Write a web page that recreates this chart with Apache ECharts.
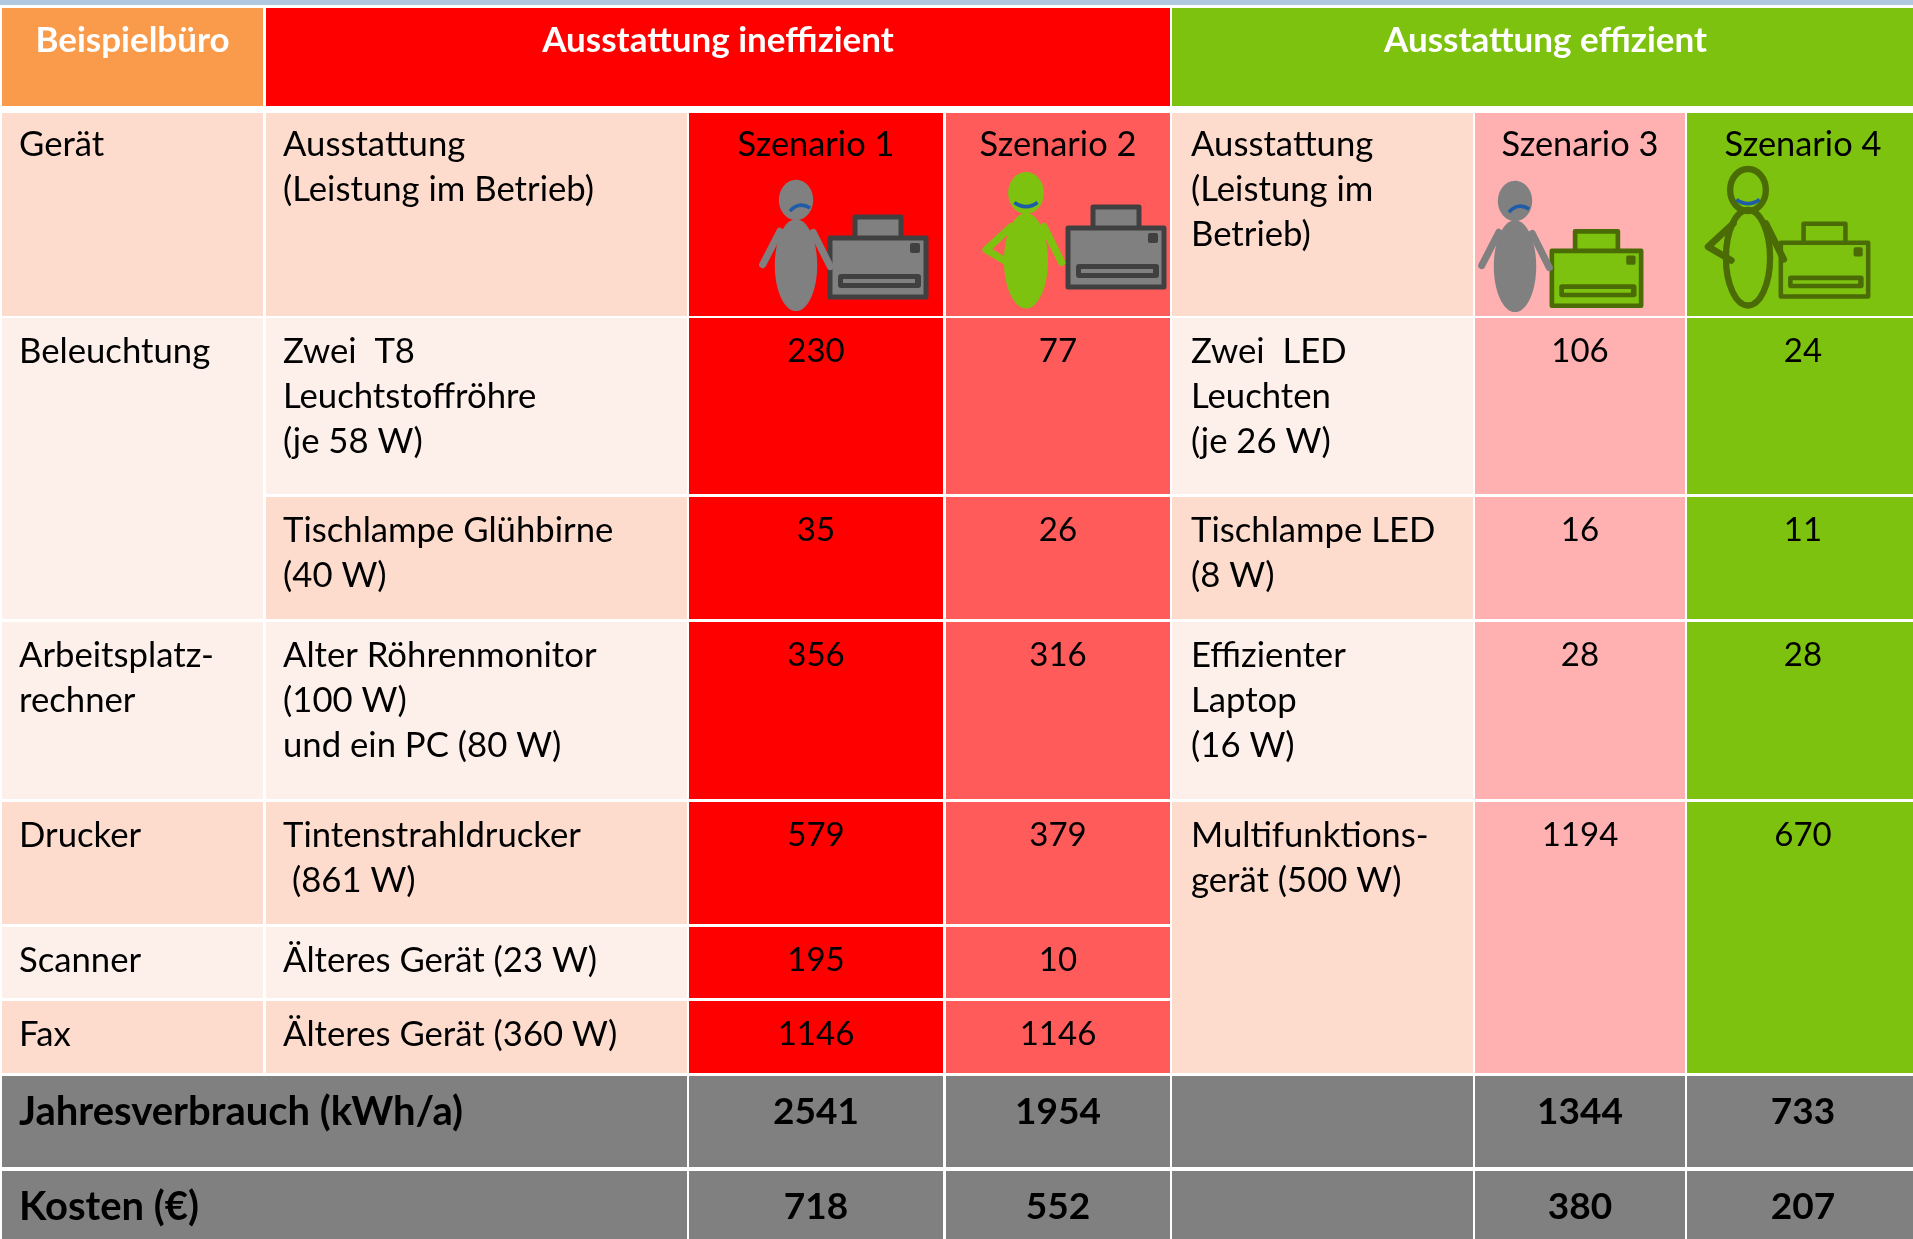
<!DOCTYPE html>
<html>
<head>
<meta charset="utf-8">
<title>Beispielbüro</title>
<script src="https://cdn.jsdelivr.net/npm/echarts@6/dist/echarts.min.js"></script>
<style>
html, body { margin: 0; padding: 0; background: #fff; }
#chart { width: 1913px; height: 1239px; }
</style>
</head>
<body>
<div id="chart"></div>
<script>
// table content
var kopfzeile = ['Beispielbüro', 'Ausstattung ineffizient', 'Ausstattung effizient'];
var spaltenkopf = ['Gerät', 'Ausstattung\n(Leistung im Betrieb)', 'Ausstattung\n(Leistung im\nBetrieb)'];
var szenarien = ['Szenario 1', 'Szenario 2', 'Szenario 3', 'Szenario 4'];
var geraete = ['Beleuchtung', 'Arbeitsplatz-\nrechner', 'Drucker', 'Scanner', 'Fax'];
var ausstattungIneffizient = [
    'Zwei  T8\nLeuchtstoffröhre\n(je 58 W)',
    'Tischlampe Glühbirne\n(40 W)',
    'Alter Röhrenmonitor\n(100 W)\nund ein PC (80 W)',
    'Tintenstrahldrucker\n (861 W)',
    'Älteres Gerät (23 W)',
    'Älteres Gerät (360 W)'
];
var ausstattungEffizient = [
    'Zwei  LED\nLeuchten\n(je 26 W)',
    'Tischlampe LED\n(8 W)',
    'Effizienter\nLaptop\n(16 W)',
    'Multifunktions-\ngerät (500 W)'
];
var szenario1 = [230, 35, 356, 579, 195, 1146];
var szenario2 = [77, 26, 316, 379, 10, 1146];
var szenario3 = [106, 16, 28, 1194];
var szenario4 = [24, 11, 28, 670];
var summenNamen = ['Jahresverbrauch (kWh/a)', 'Kosten (€)'];
var jahresverbrauch = [2541, 1954, 1344, 733];
var kosten = [718, 552, 380, 207];

// table layout in axis units
var colX = [[2, 263], [266, 687], [689, 943], [946, 1170], [1172, 1473], [1475, 1685], [1687, 1913]];
var rowY = [[8, 106], [113, 316], [318, 494], [497, 619], [622, 799], [802, 924], [927, 998], [1001, 1073], [1076, 1167], [1171, 1239]];

var ORANGE = '#f99b4b', RED = '#ff0000', RED2 = '#ff5b5b', PINK = '#ffb0b0', GREEN = '#7dc20e';
var PEACH = '#fddcce', LIGHT = '#fdefe9', GRAY = '#808080', DARK = '#404040', DARKGREEN = '#4a6b05', BLUE = '#1f5ca8';

var FONT = 'Lato';
var cells = [];
function cell(c0, c1, r0, r1, fill, text, opt) {
    opt = opt || {};
    cells.push({
        c0: c0, c1: c1, r0: r0, r1: r1, fill: fill, text: String(text),
        center: opt.center, color: opt.color || '#000', bold: opt.bold,
        size: opt.size || 34.7, pad: opt.pad || 17, off: opt.off || 11, dx: opt.dx || 0
    });
}

// header band
var head = { center: true, color: '#fff', bold: true, size: 35, off: 10 };
cell(0, 0, 0, 0, ORANGE, kopfzeile[0], head);
cell(1, 3, 0, 0, RED, kopfzeile[1], head);
cell(4, 6, 0, 0, GREEN, kopfzeile[2], { center: true, color: '#fff', bold: true, size: 35, off: 10, dx: 3 });

// second row
var kopfFarben = [RED, RED2, PINK, GREEN];
cell(0, 0, 1, 1, PEACH, spaltenkopf[0], { off: 9 });
cell(1, 1, 1, 1, PEACH, spaltenkopf[1], { off: 9 });
cell(4, 4, 1, 1, PEACH, spaltenkopf[2], { off: 9, pad: 19 });
[2, 3, 5, 6].forEach(function (c, i) {
    cell(c, c, 1, 1, kopfFarben[i], szenarien[i], { center: true, size: 34.4, off: 9, dx: i === 3 ? 3 : 0 });
});

// device column
cell(0, 0, 2, 3, LIGHT, geraete[0]);
cell(0, 0, 4, 4, LIGHT, geraete[1]);
cell(0, 0, 5, 5, PEACH, geraete[2]);
cell(0, 0, 6, 6, LIGHT, geraete[3]);
cell(0, 0, 7, 7, PEACH, geraete[4]);

// inefficient side
var num = { center: true, size: 33 };
ausstattungIneffizient.forEach(function (t, i) {
    cell(1, 1, i + 2, i + 2, i % 2 ? PEACH : LIGHT, t);
    cell(2, 2, i + 2, i + 2, RED, szenario1[i], num);
    cell(3, 3, i + 2, i + 2, RED2, szenario2[i], num);
});

// efficient side, last row spans printer, scanner and fax
ausstattungEffizient.forEach(function (t, i) {
    var r1 = i === 3 ? 7 : i + 2;
    cell(4, 4, i + 2, r1, i % 2 ? PEACH : LIGHT, t, { pad: 19 });
    cell(5, 5, i + 2, r1, PINK, szenario3[i], num);
    cell(6, 6, i + 2, r1, GREEN, szenario4[i], { center: true, size: 33, dx: 3 });
});

// totals
[jahresverbrauch, kosten].forEach(function (vals, i) {
    var t = { center: true, bold: true, size: 37, off: 14 };
    var r = 8 + i;
    cell(0, 1, r, r, GRAY, summenNamen[i], { bold: true, size: 40, off: 14 });
    cell(2, 2, r, r, GRAY, vals[0], t);
    cell(3, 3, r, r, GRAY, vals[1], t);
    cell(4, 4, r, r, GRAY, '', t);
    cell(5, 5, r, r, GRAY, vals[2], t);
    cell(6, 6, r, r, GRAY, vals[3], { center: true, bold: true, size: 37, off: 14, dx: 3 });
});

// pictograms: person and printer per scenario, anchors in axis units
var figures = [
    { head: [796, 200], s: 1.01, printer: [828, 236], ps: 1, person: { fill: GRAY }, hip: false, happy: false, pfill: GRAY, pline: DARK },
    { head: [1026, 193], s: 1.05, printer: [1066, 226], ps: 1, person: { fill: GREEN }, hip: true, happy: true, pfill: GRAY, pline: DARK },
    { head: [1515, 201], s: 1.01, printer: [1550, 249], ps: 0.93, person: { fill: GRAY }, hip: false, happy: false, pfill: GREEN, pline: DARKGREEN },
    { head: [1748, 190], s: 1.05, printer: [1779, 241], ps: 0.91, person: { fill: GREEN, line: DARKGREEN }, hip: true, happy: true, pfill: GREEN, pline: DARKGREEN }
];

function renderCell(params, api) {
    var c = cells[api.value(0)];
    var p0 = api.coord([colX[c.c0][0], rowY[c.r0][0]]);
    var p1 = api.coord([colX[c.c1][1], rowY[c.r1][1]]);
    var children = [{
        type: 'rect',
        shape: { x: p0[0], y: p0[1], width: p1[0] - p0[0], height: p1[1] - p0[1] },
        style: { fill: c.fill }
    }];
    if (c.text) {
        children.push({
            type: 'text',
            x: c.center ? (p0[0] + p1[0]) / 2 + c.dx : p0[0] + c.pad,
            y: p0[1] + c.off,
            style: {
                text: c.text,
                fill: c.color,
                font: (c.bold ? 'bold ' : '') + c.size + 'px ' + FONT,
                lineHeight: 45,
                align: c.center ? 'center' : 'left',
                verticalAlign: 'top'
            }
        });
    }
    return { type: 'group', children: children };
}

function personParts(f) {
    var fill = f.person.line ? 'none' : f.person.fill;
    var line = f.person.line || f.person.fill;
    var w = f.person.line ? 6 : 0;
    var arm = { stroke: line, lineWidth: f.person.line ? 6.5 : 7, lineCap: 'round', lineJoin: 'round', fill: 'none' };
    var parts = [
        { type: 'ellipse', shape: { cx: 0, cy: 64.5, rx: 21, ry: 45.5 }, style: { fill: fill, stroke: line, lineWidth: w } },
        { type: 'ellipse', shape: { cx: 0, cy: 0, rx: 17, ry: 20 }, style: { fill: fill, stroke: line, lineWidth: w } },
        { type: 'line', shape: { x1: 17, y1: 32, x2: 34, y2: 66 }, style: arm }
    ];
    if (f.hip) {
        parts.push({ type: 'polyline', shape: { points: [[-14, 32], [-38, 54], [-16, 67]] }, style: arm });
    } else {
        parts.push({ type: 'line', shape: { x1: -16, y1: 31, x2: -33, y2: 64 }, style: arm });
    }
    // mouth
    parts.push({
        type: 'bezierCurve',
        shape: f.happy
            ? { x1: -11, y1: 9, x2: 11, y2: 9, cpx1: 0, cpy1: 17 }
            : { x1: -6, y1: 11, x2: 14, y2: 8, cpx1: 3, cpy1: 1 },
        style: { stroke: BLUE, lineWidth: 3.5, fill: 'none' }
    });
    return parts;
}

function printerParts(f) {
    var st = { fill: f.pfill, stroke: f.pline, lineWidth: 5, lineJoin: 'round' };
    return [
        { type: 'rect', shape: { x: 27, y: -19, width: 46, height: 22 }, style: st },
        { type: 'rect', shape: { x: 2, y: 2, width: 96, height: 59 }, style: st },
        { type: 'rect', shape: { x: 82, y: 7, width: 10, height: 10, r: 2 }, style: { fill: f.pline } },
        { type: 'rect', shape: { x: 10, y: 38, width: 83, height: 14, r: 3 }, style: { fill: f.pline } },
        { type: 'rect', shape: { x: 15, y: 43, width: 72, height: 4 }, style: { fill: f.pfill } }
    ];
}

function renderFigure(params, api) {
    var f = figures[api.value(0)];
    var h = api.coord(f.head);
    var p = api.coord(f.printer);
    return {
        type: 'group',
        children: [
            { type: 'group', x: p[0], y: p[1], scaleX: f.ps, scaleY: f.ps, children: printerParts(f) },
            { type: 'group', x: h[0], y: h[1], scaleX: f.s, scaleY: f.s, children: personParts(f) }
        ]
    };
}

var myChart = echarts.init(document.getElementById('chart'));
myChart.setOption({
    animation: false,
    backgroundColor: '#fff',
    grid: { left: 0, right: 0, top: 0, bottom: 0 },
    xAxis: { type: 'value', min: 0, max: 1913, show: false },
    yAxis: { type: 'value', min: 0, max: 1239, inverse: true, show: false },
    graphic: [{
        type: 'rect', left: 0, top: 0, silent: true,
        shape: { width: 1913, height: 5 }, style: { fill: '#b0c8e0' }
    }],
    series: [
        {
            type: 'custom', silent: true, clip: false,
            renderItem: renderCell,
            encode: { x: 0, y: 0 },
            data: cells.map(function (c, i) { return [i]; })
        },
        {
            type: 'custom', silent: true, clip: false,
            renderItem: renderFigure,
            encode: { x: 0, y: 0 },
            data: figures.map(function (f, i) { return [i]; })
        }
    ]
});
</script>
</body>
</html>
